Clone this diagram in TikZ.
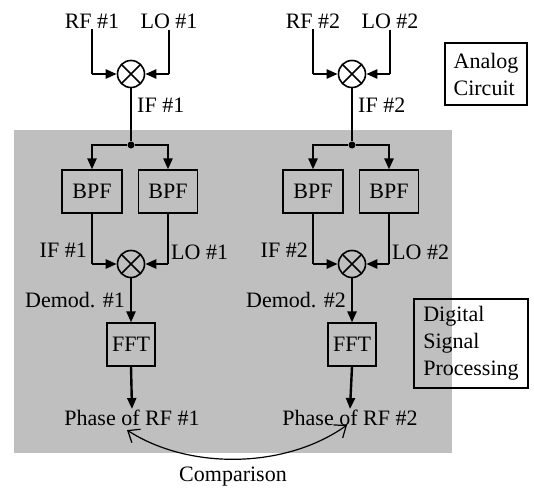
\documentclass[tikz,border=0pt]{standalone}
\usepackage{fontspec}
\setmainfont{Liberation Serif}
\usetikzlibrary{arrows.meta}

\tikzset{
  blk/.style={draw,line width=1.2pt,minimum height=43pt,inner sep=2pt},
  note/.style={draw,line width=1.2pt,align=left,inner sep=4pt},
  mix/.style={circle,draw,line width=1.6pt,minimum size=27pt,inner sep=0pt,
    path picture={\draw[line width=1.6pt]
      (path picture bounding box.north west) -- (path picture bounding box.south east)
      (path picture bounding box.north east) -- (path picture bounding box.south west);}},
  sig/.style={line width=1.2pt},
  arr/.style={line width=2.4pt,-{Triangle[length=11pt,width=9pt]}},
  dot/.style={circle,fill,inner sep=0pt,minimum size=7pt},
  lbl/.style={inner sep=1pt}
}

\begin{document}
\begin{tikzpicture}[x=1pt,y=-1pt,every node/.style={font=\fontsize{22}{27}\selectfont}]
  \useasboundingbox (0,0) rectangle (534,489);
  % shaded digital part
  \fill[gray!50] (14,130) rectangle (452,453);
  % region labels
  \node[note,minimum width=82pt,minimum height=62pt] (ana) at (486,74) {Analog\\Circuit};
  \node[note,minimum width=114pt,minimum height=89pt] (dsp) at (471,343.5) {Digital\\Signal\\Processing};

  % channel 1
  \node[lbl] (rf1) at (92,21) {RF \#1};
  \node[lbl] (lo1) at (169,21) {LO \#1};
  \node[mix] (mx1) at (131,74) {};
  \draw[sig] (rf1.south) -- (rf1.south |- mx1.west) coordinate (rf1in);
  \draw[sig] (lo1.south) -- (lo1.south |- mx1.east) coordinate (lo1in);
  \draw[arr] (rf1in) -- (mx1.west);
  \draw[arr] (lo1in) -- (mx1.east);
  \node[lbl,anchor=west] (if1) at (136,105) {IF \#1};
  \node[dot] (j1) at (131,145) {};
  \draw[sig] (mx1.south) -- (j1);
  \node[blk,minimum width=60pt] (bpf1a) at (92,191.5) {BPF};
  \node[blk,minimum width=59pt] (bpf1b) at (168,191.5) {BPF};
  \draw[arr] (j1) -| (bpf1a.north);
  \draw[arr] (j1) -| (bpf1b.north);
  \node[mix] (dm1) at (131,264) {};
  \draw[sig] (bpf1a.south) -- (bpf1a.south |- dm1.west) coordinate (if1in);
  \draw[sig] (bpf1b.south) -- (bpf1b.south |- dm1.east) coordinate (lo1b);
  \draw[arr] (if1in) -- (dm1.west);
  \draw[arr] (lo1b) -- (dm1.east);
  \node[lbl,anchor=east] (if1b) at (88,250) {IF \#1};
  \node[lbl,anchor=west] (lo1c) at (170,252) {LO \#1};
  \node[lbl,anchor=east] (dem1) at (126,300) {Demod. \#1};
  \node[blk,minimum width=48pt] (fft1) at (131,344.5) {FFT};
  \draw[arr] (dm1.south) -- (fft1.north);
  \node[lbl] (ph1) at (132,418) {Phase of RF \#1};
  \draw[arr] (fft1.south) -- (ph1.north);

  % channel 2
  \node[lbl] (rf2) at (313,21) {RF \#2};
  \node[lbl] (lo2) at (390,21) {LO \#2};
  \node[mix] (mx2) at (352,74) {};
  \draw[sig] (rf2.south) -- (rf2.south |- mx2.west) coordinate (rf2in);
  \draw[sig] (lo2.south) -- (lo2.south |- mx2.east) coordinate (lo2in);
  \draw[arr] (rf2in) -- (mx2.west);
  \draw[arr] (lo2in) -- (mx2.east);
  \node[lbl,anchor=west] (if2) at (357,105) {IF \#2};
  \node[dot] (j2) at (352,145) {};
  \draw[sig] (mx2.south) -- (j2);
  \node[blk,minimum width=60pt] (bpf2a) at (313,191.5) {BPF};
  \node[blk,minimum width=59pt] (bpf2b) at (389,191.5) {BPF};
  \draw[arr] (j2) -| (bpf2a.north);
  \draw[arr] (j2) -| (bpf2b.north);
  \node[mix] (dm2) at (352,264) {};
  \draw[sig] (bpf2a.south) -- (bpf2a.south |- dm2.west) coordinate (if2in);
  \draw[sig] (bpf2b.south) -- (bpf2b.south |- dm2.east) coordinate (lo2b);
  \draw[arr] (if2in) -- (dm2.west);
  \draw[arr] (lo2b) -- (dm2.east);
  \node[lbl,anchor=east] (if2b) at (309,250) {IF \#2};
  \node[lbl,anchor=west] (lo2c) at (391,252) {LO \#2};
  \node[lbl,anchor=east] (dem2) at (347,300) {Demod. \#2};
  \node[blk,minimum width=48pt] (fft2) at (352,344.5) {FFT};
  \draw[arr] (dm2.south) -- (fft2.north);
  \node[lbl] (ph2) at (350,418) {Phase of RF \#2};
  \draw[arr] (fft2.south) -- (ph2.north);

  % comparison of the two phases
  \coordinate (c1) at ([shift={(-5,3)}]ph1.south);
  \coordinate (c2) at ([shift={(-3,-2)}]ph2.south);
  \draw[line width=1.2pt,{Straight Barb[length=10pt,width=16pt]}-{Straight Barb[length=10pt,width=16pt]}]
    (c1) .. controls +(62,40) and +(-62,44) .. (c2);
  \node[lbl] (cmp) at (233,477) {Comparison};
\end{tikzpicture}
\end{document}
